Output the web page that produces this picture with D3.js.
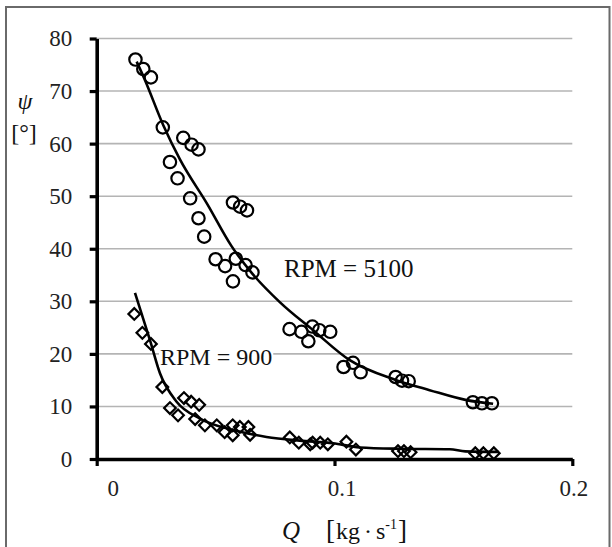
<!DOCTYPE html>
<html><head><meta charset="utf-8">
<script src="https://cdn.jsdelivr.net/npm/d3@7"></script>
<style>body{margin:0;background:#fff}svg{display:block}svg text{font-family:"Liberation Serif","Times New Roman","DejaVu Serif",serif !important}</style>
</head><body><svg id="c" width="612" height="547" font-family="Liberation Serif, Times New Roman, DejaVu Serif, serif"></svg>
<script>
// ---- data ----
const yTicks = [0, 10, 20, 30, 40, 50, 60, 70, 80];
const xTicks = [0, 0.1, 0.2];
const xTickLabels = ["0", "0.1", "0.2"];

const rpm5100Q   = [0.0163,0.0196,0.0228,0.0278,0.0308,0.0340,0.0364,0.0399,0.0428,0.0393,0.0428,0.0452,0.0500,0.0540,0.0573,0.0573,0.0603,0.0632,0.0585,0.0626,0.0655,0.0811,0.0861,0.0890,0.0907,0.0936,0.0982,0.1038,0.1078,0.1110,0.1257,0.1284,0.1312,0.1582,0.1620,0.1662];
const rpm5100Psi = [76.0,74.2,72.6,63.1,56.5,53.4,61.1,59.8,58.9,49.6,45.8,42.3,38.0,36.7,33.8,48.8,48.0,47.3,38.1,36.9,35.5,24.7,24.2,22.4,25.2,24.5,24.2,17.5,18.3,16.5,15.6,14.9,14.8,10.8,10.6,10.6];

const rpm900Q   = [0.0158,0.0192,0.0228,0.0276,0.0308,0.0342,0.0367,0.0397,0.0431,0.0414,0.0455,0.0505,0.0538,0.0572,0.0572,0.0602,0.0638,0.0645,0.0812,0.0850,0.0898,0.0908,0.0940,0.0972,0.1050,0.1090,0.1267,0.1292,0.1320,0.1592,0.1626,0.1670];
const rpm900Psi = [27.6,24.0,21.9,13.7,9.7,8.3,11.6,10.9,10.3,7.6,6.4,6.4,5.1,4.5,6.4,6.1,6.1,4.6,4.1,3.1,2.8,3.1,3.1,2.8,3.3,1.8,1.5,1.5,1.3,1.1,1.1,1.1];

const fit5100Q   = [0.0168,0.0200,0.0280,0.0350,0.0465,0.0567,0.0650,0.0771,0.0910,0.1064,0.1260,0.1400,0.1555,0.1667];
const fit5100Psi = [75.6,72.4,63.5,57.0,48.5,40.5,35.5,29.8,24.5,18.8,15.0,13.1,11.2,10.5];

const fit900Q   = [0.0161,0.0224,0.0266,0.0336,0.0434,0.0574,0.0714,0.0854,0.0994,0.1106,0.1280,0.1485,0.1550,0.1690];
const fit900Psi = [31.6,22.6,16.3,10.9,7.7,5.5,4.2,3.5,3.0,2.2,1.95,1.85,1.45,1.35];

// ---- layout ----
const FONT = '"Liberation Serif","Times New Roman","DejaVu Serif",serif';
const svg = d3.select("#c");
const x = d3.scaleLinear().domain([0, 0.2]).range([96.7, 572.3]);
const y = d3.scaleLinear().domain([0, 80]).range([459, 38.5]);

// outer frame
svg.append("path").attr("d", "M6,547 V7 H609.5 V547").attr("fill", "none")
  .attr("stroke", "#6a6a6a").attr("stroke-width", 2);

// gridlines
svg.append("g").selectAll("line").data(yTicks.filter(d => d > 0)).join("line")
  .attr("x1", x(0)).attr("x2", x(0.2)).attr("y1", d => y(d)).attr("y2", d => y(d))
  .attr("stroke", "#b4b4b4").attr("stroke-width", 1.6);

// y axis
const gy = svg.append("g").attr("transform", `translate(${x(0)},0)`)
  .call(d3.axisLeft(y).tickValues(yTicks).tickSize(7).tickSizeOuter(0).tickPadding(17.5).tickFormat(d3.format("d")));
gy.attr("font-family", FONT);
gy.select(".domain").attr("stroke", "#000").attr("stroke-width", 3.6);
gy.selectAll(".tick line").attr("stroke", "#000").attr("stroke-width", 3.2);
gy.selectAll(".tick text").attr("font-size", 23).attr("fill", "#222").style("font-family", FONT);

// x axis
const xLabelDx = [16, 7, 1];
const gx = svg.append("g").attr("transform", `translate(0,${y(0)})`)
  .call(d3.axisBottom(x).tickValues(xTicks).tickSize(7).tickSizeOuter(0).tickFormat((d, i) => xTickLabels[i]));
gx.attr("font-family", FONT);
gx.select(".domain").attr("stroke", "#000").attr("stroke-width", 3.6);
gx.selectAll(".tick line").attr("stroke", "#000").attr("stroke-width", 3.2);
gx.selectAll(".tick text").attr("font-size", 23).attr("fill", "#222")
  .attr("y", 37).attr("dy", 0).attr("dx", (d, i) => xLabelDx[i]).style("font-family", FONT);

// fitted curves
const line = (qs, ps) => d3.line().x(i => x(qs[i])).y(i => y(ps[i])).curve(d3.curveMonotoneX)(d3.range(qs.length));
svg.append("path").attr("d", line(fit5100Q, fit5100Psi)).attr("fill", "none").attr("stroke", "#000").attr("stroke-width", 2.6);
svg.append("path").attr("d", line(fit900Q, fit900Psi)).attr("fill", "none").attr("stroke", "#000").attr("stroke-width", 2.6);

// circles
svg.append("g").selectAll("circle").data(d3.range(rpm5100Q.length)).join("circle")
  .attr("cx", i => x(rpm5100Q[i])).attr("cy", i => y(rpm5100Psi[i])).attr("r", 6.2)
  .attr("fill", "none").attr("stroke", "#000").attr("stroke-width", 2.2);

// diamonds
const diamond = d3.symbol().type(d3.symbolSquare).size(68);
svg.append("g").selectAll("path").data(d3.range(rpm900Q.length)).join("path")
  .attr("d", diamond)
  .attr("transform", i => `translate(${x(rpm900Q[i])},${y(rpm900Psi[i])}) rotate(45)`)
  .attr("fill", "none").attr("stroke", "#000").attr("stroke-width", 2.2);

// annotations
const txt = (xx, yy, size, s) => svg.append("text").attr("x", xx).attr("y", yy)
  .attr("font-size", size).style("font-family", FONT).attr("fill", "#111").text(s);
txt(284, 277, 25, "RPM = 5100");
const t9 = txt(160, 365, 24, "RPM = 900");
const bb = t9.node().getBBox();
svg.insert("rect", () => t9.node()).attr("x", bb.x - 1).attr("y", bb.y + 3)
  .attr("width", bb.width + 2).attr("height", bb.height - 6).attr("fill", "#fff");

// axis titles
txt(25, 109, 24, "ψ").attr("text-anchor", "middle").attr("font-style", "italic");
txt(24, 141, 24, "[°]").attr("text-anchor", "middle");

txt(291, 539, 25, "Q").attr("text-anchor", "middle").attr("font-style", "italic");
const xt = svg.append("text").attr("x", 326).attr("y", 539).attr("font-size", 24)
  .style("font-family", FONT).attr("fill", "#111");
xt.append("tspan").attr("font-size", 27).text("[");
xt.append("tspan").attr("dx", 1).text("kg");
xt.append("tspan").attr("dx", 4).text("·");
xt.append("tspan").attr("dx", 4).text("s");
xt.append("tspan").attr("font-size", 14).attr("dy", -10).text("-1");
xt.append("tspan").attr("font-size", 27).attr("dy", 10).attr("dx", 1).text("]");
</script></body></html>
